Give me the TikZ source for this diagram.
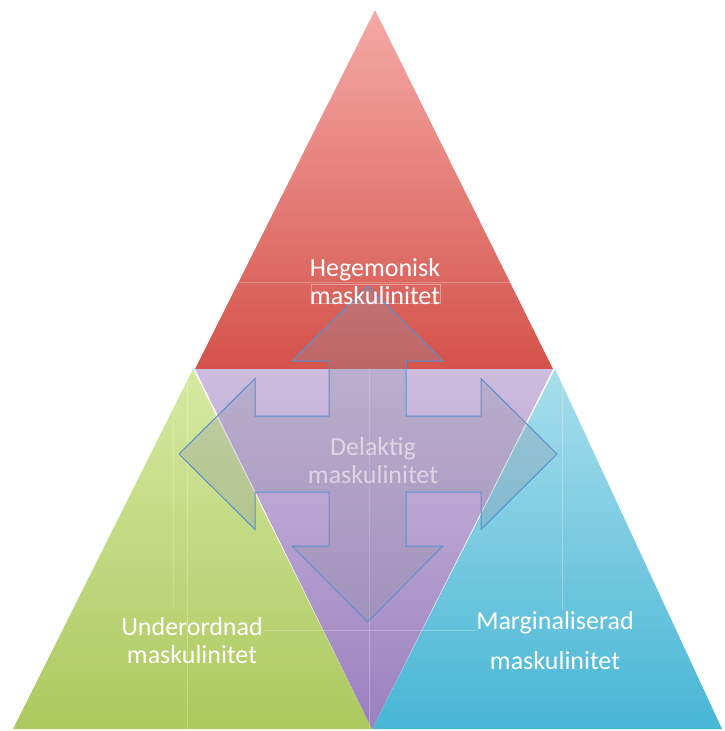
\documentclass[tikz,border=0pt]{standalone}
\usepackage{fontspec}
\setmainfont{Carlito}
\definecolor{redtop}{HTML}{F5A9A6}
\definecolor{redbot}{HTML}{D4524A}
\definecolor{greentop}{HTML}{D6E9A2}
\definecolor{greenbot}{HTML}{ACC95F}
\definecolor{bluetop}{HTML}{A8DEEC}
\definecolor{bluebot}{HTML}{47B6D5}
\definecolor{purptop}{HTML}{CEBCDF}
\definecolor{purpbot}{HTML}{9A80BE}
\definecolor{arrowfill}{HTML}{8E92A6}
\definecolor{arrowline}{HTML}{5B8FD0}
\tikzset{
  lbl/.style={text=white, font=\fontsize{26}{28}\selectfont, align=center, inner sep=0pt},
  arrowshape/.style={fill=arrowfill, fill opacity=0.3, draw=arrowline, line width=1pt, line join=miter},
  faint/.style={white, opacity=0.25, line width=0.6pt},
}
\begin{document}
\begin{tikzpicture}[x=1pt,y=-1pt]
\useasboundingbox (0,0) rectangle (724,731);
% triangles
\shade[top color=redtop, bottom color=redbot] (375,10) -- (553,369) -- (195,369) -- cycle;
\shade[top color=greentop, bottom color=greenbot] (193,369) -- (372,729) -- (13,729) -- cycle;
\shade[top color=bluetop, bottom color=bluebot] (555,369) -- (722,729) -- (372,729) -- cycle;
\shade[top color=purptop, bottom color=purpbot] (195,369) -- (553,369) -- (372,729) -- cycle;
% faint text box lines
\draw[faint] (369,369) -- (369,729);
\draw[faint] (187,372) -- (187,729);
\draw[faint, opacity=0.2] (173,405) -- (173,610);
\draw[faint] (562,369) -- (562,610);
\draw[faint] (236,282) -- (512,282);
\draw[faint] (265,630) -- (477,630);
\draw[faint, opacity=0.35] (311,284) rectangle (440,303);
% four-way arrow
\node[coordinate] (c) at (367.5,454) {};
\draw[arrowshape]
  (367.5,286) -- (443,361) -- (406,361) -- (406,416) -- (481,416) -- (481,378.5)
  -- (557,454) -- (481,529.5) -- (481,492) -- (406,492) -- (406,546) -- (443,546)
  -- (367.5,622) -- (292,546) -- (329,546) -- (329,492) -- (255,492) -- (255,529.5)
  -- (179,454) -- (255,378.5) -- (255,416) -- (329,416) -- (329,361) -- (292,361) -- cycle;
% labels
\node[lbl] (heg) at (375,282) {Hegemonisk\\maskulinitet};
\node[lbl, text opacity=0.55] (del) at (373,461) {Delaktig\\maskulinitet};
\node[lbl] (und) at (192,641) {Underordnad\\maskulinitet};
\node[lbl] (mar) at (555,641) {Marginaliserad\\[12pt]maskulinitet};
\end{tikzpicture}
\end{document}
